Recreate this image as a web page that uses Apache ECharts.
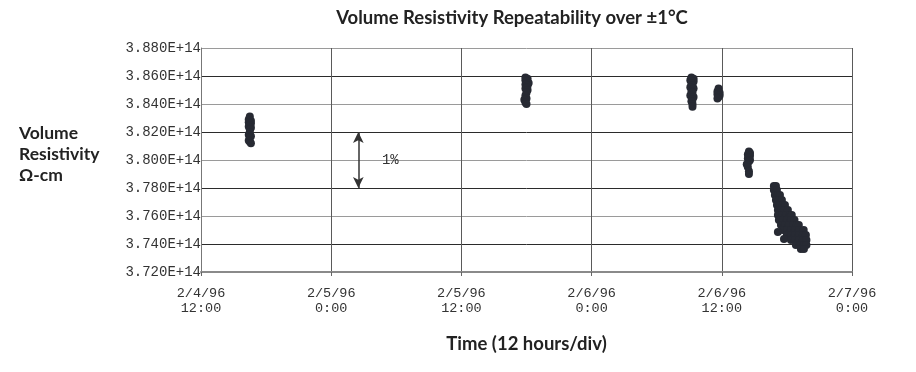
<!DOCTYPE html>
<html>
<head>
<meta charset="utf-8">
<script src="https://cdn.jsdelivr.net/npm/echarts@6/dist/echarts.min.js"></script>
<style>html,body{margin:0;padding:0;background:#fff}#c{width:916px;height:372px}</style>
</head>
<body>
<div id="c"></div>
<script>
// Time in hours after 2/4/96 12:00; resistivity in units of 1E+14 ohm-cm
const xTickLabels = ['2/4/96\n12:00', '2/5/96\n0:00', '2/5/96\n12:00', '2/6/96\n0:00', '2/6/96\n12:00', '2/7/96\n0:00'];
const yTickValues = [3.72, 3.74, 3.76, 3.78, 3.80, 3.82, 3.84, 3.86, 3.88];

const run1 = [[4.5,3.831],[4.4,3.829],[4.6,3.828],[4.4,3.827],[4.6,3.826],[4.5,3.825],[4.4,3.824],[4.6,3.823],[4.5,3.822],[4.5,3.820],[4.4,3.818],[4.6,3.817],[4.5,3.816],[4.4,3.814],[4.5,3.813],[4.6,3.812]];
const run2 = [[29.9,3.859],[30.1,3.858],[29.9,3.857],[30.0,3.856],[30.2,3.855],[29.9,3.854],[30.1,3.853],[30.0,3.852],[29.9,3.851],[30.1,3.850],[30.0,3.848],[29.9,3.846],[30.0,3.844],[29.8,3.843],[29.9,3.841],[30.0,3.840]];
const run3 = [[45.2,3.859],[45.4,3.858],[45.1,3.857],[45.4,3.856],[45.2,3.855],[45.3,3.853],[45.1,3.852],[45.4,3.851],[45.2,3.849],[45.3,3.848],[45.1,3.846],[45.4,3.845],[45.3,3.843],[45.2,3.842],[45.3,3.840],[45.3,3.838]];
const run4 = [[47.7,3.851],[47.6,3.849],[47.8,3.848],[47.6,3.847],[47.8,3.846],[47.7,3.845],[47.6,3.844]];
const run5 = [[50.5,3.806],[50.6,3.805],[50.4,3.804],[50.6,3.803],[50.5,3.802],[50.4,3.801],[50.6,3.800],[50.5,3.799],[50.3,3.797],[50.4,3.795],[50.5,3.792],[50.5,3.790]];
const run6 = [
  [52.80,3.7814],[52.99,3.7814],
  [52.80,3.7786],[53.08,3.7786],
  [52.89,3.7750],[53.17,3.7750],[53.36,3.7750],
  [52.99,3.7714],[53.26,3.7714],[53.54,3.7714],
  [53.08,3.7679],[53.36,3.7679],[53.63,3.7679],[53.82,3.7679],
  [53.17,3.7643],[53.45,3.7643],[53.73,3.7643],[54.09,3.7643],
  [53.17,3.7607],[53.54,3.7607],[53.91,3.7607],[54.28,3.7607],[54.45,3.7607],
  [53.26,3.7571],[53.63,3.7571],[54.00,3.7571],[54.37,3.7571],[54.70,3.7571],
  [53.45,3.7536],[53.82,3.7536],[54.19,3.7536],[54.56,3.7536],[54.92,3.7536],[55.10,3.7536],
  [53.63,3.7500],[54.00,3.7500],[54.37,3.7500],[54.74,3.7500],[55.11,3.7500],[55.55,3.7500],
  [54.00,3.7464],[54.37,3.7464],[54.74,3.7464],[55.11,3.7464],[55.48,3.7464],[55.75,3.7464],
  [54.37,3.7429],[54.74,3.7429],[55.11,3.7429],[55.48,3.7429],[55.80,3.7429],
  [54.83,3.7393],[55.20,3.7393],[55.57,3.7393],[55.80,3.7393],
  [55.29,3.7364],[55.57,3.7364],
  [53.17,3.7486],[53.73,3.7436]
];
const arrowHour = 14.5;
const arrowSpan = [3.82, 3.78];
const arrowLabelAt = [17.45, 3.80];

const mono = '"Liberation Mono", "DejaVu Sans Mono", monospace';
const sans = 'Lato, "Noto Sans", sans-serif';

const chart = echarts.init(document.getElementById('c'), null, {renderer: 'canvas'});
chart.setOption({
  animation: false,
  backgroundColor: '#ffffff',
  title: [
    {text: 'Volume Resistivity Repeatability over ±1°C', left: 512, top: 9, padding: 0, textAlign: 'center',
     textStyle: {fontFamily: sans, fontWeight: 'bold', fontSize: 18.5, color: '#222'}},
    {text: 'Volume\nResistivity\nΩ-cm', left: 19, top: 123, padding: 0,
     textStyle: {fontFamily: sans, fontWeight: 'bold', fontSize: 17.5, lineHeight: 21, color: '#222'}}
  ],
  grid: {left: 201, top: 48, width: 651, height: 224, containLabel: false},
  xAxis: {
    type: 'value', min: 0, max: 60, interval: 12,
    name: 'Time (12 hours/div)', nameLocation: 'middle', nameGap: 63,
    nameTextStyle: {fontFamily: sans, fontWeight: 'bold', fontSize: 18.5, color: '#222'},
    axisLine: {show: true, lineStyle: {color: '#8a8a8a', width: 2}},
    axisTick: {show: true, length: 4, lineStyle: {color: '#666'}},
    axisLabel: {fontFamily: mono, fontSize: 13.5, color: '#333', lineHeight: 15, margin: 14,
      formatter: v => xTickLabels[Math.round(v / 12)]},
    splitLine: {show: true, lineStyle: {color: '#5a5a5a', width: 1}}
  },
  yAxis: {
    type: 'value', min: 3.72, max: 3.88, interval: 0.02,
    axisLine: {show: true, lineStyle: {color: '#777', width: 1}},
    axisTick: {show: false},
    axisLabel: {fontFamily: mono, fontSize: 14, color: '#333', margin: 0,
      formatter: v => v.toFixed(3) + 'E+14'},
    splitLine: {show: true, lineStyle: {color: ['#9a9a9a', '#2b2b2b'], width: 1}}
  },
  series: [{
    type: 'scatter',
    symbol: 'circle', symbolSize: 8,
    itemStyle: {color: '#272a33', opacity: 1},
    data: [].concat(run1, run2, run3, run4, run5, run6),
    markLine: {
      silent: true, symbol: ['arrow', 'arrow'], symbolSize: [8, 11],
      lineStyle: {color: '#333', width: 1.5, type: 'solid'},
      label: {show: false},
      data: [[{coord: [arrowHour, arrowSpan[0]]}, {coord: [arrowHour, arrowSpan[1]]}]]
    },
    markPoint: {
      silent: true, symbol: 'rect', symbolSize: 1,
      itemStyle: {color: 'rgba(0,0,0,0)'},
      label: {show: true, position: 'inside', formatter: '1%', fontFamily: mono, fontSize: 14, color: '#333'},
      data: [{coord: arrowLabelAt, value: 1}]
    }
  }]
});
</script>
</body>
</html>
